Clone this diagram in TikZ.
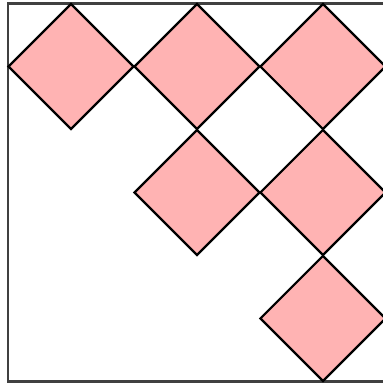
\documentclass[tikz,border=0pt]{standalone}
\usepackage{tikz}
\usetikzlibrary{shapes.geometric}
\definecolor{tilepink}{HTML}{FFB3B3}

\begin{document}
\begin{tikzpicture}[
        frame/.style={draw=black!75, line width=1.2pt},
        tile/.style={diamond, draw=black, fill=tilepink, line width=1pt, minimum width=2cm, minimum height=2cm, inner sep=0pt}
    ]
        \useasboundingbox (-0.127,-0.056) rectangle (5.952,6.056);
        \draw[frame] (0,0) rectangle (6,6);

        % tiles along the staircase
        \foreach \name/\x/\y in {a/1/5, b/3/5, c/5/5, d/3/3, e/5/3, f/5/1}
            \node[tile] (\name) at (\x,\y) {};
    \end{tikzpicture}
\end{document}
